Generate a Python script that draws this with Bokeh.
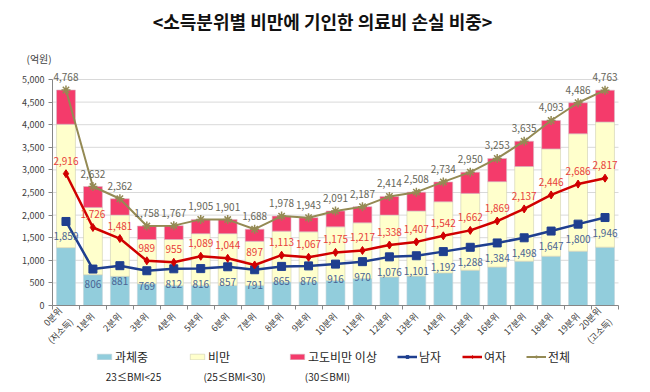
import math
from bokeh.plotting import figure
from bokeh.models import (ColumnDataSource, Range1d, FixedTicker, NumeralTickFormatter,
                          Label, Legend, LegendItem)
from bokeh.core.properties import value
from bokeh.embed import file_html
from bokeh.resources import INLINE

# ---------------- data ----------------
categories = ["0분위\n(저소득)", "1분위", "2분위", "3분위", "4분위", "5분위", "6분위", "7분위",
              "8분위", "9분위", "10분위", "11분위", "12분위", "13분위", "14분위", "15분위",
              "16분위", "17분위", "18분위", "19분위", "20분위\n(고소득)"]
overweight = [1280, 680, 645, 480, 445, 445, 445, 445, 520, 520, 555, 595, 630, 650,
              720, 780, 850, 980, 1090, 1200, 1290]
obese_top = [4010, 2170, 2000, 1460, 1460, 1590, 1590, 1420, 1645, 1630, 1740, 1830, 2000, 2090,
             2295, 2480, 2740, 3075, 3465, 3800, 4060]
total = [4768, 2632, 2362, 1758, 1767, 1905, 1901, 1688, 1978, 1943, 2091, 2187, 2414, 2508,
         2734, 2950, 3253, 3635, 4093, 4486, 4763]
male = [1859, 806, 881, 769, 812, 816, 857, 791, 865, 876, 916, 970, 1076, 1101,
        1192, 1288, 1384, 1498, 1647, 1800, 1946]
female = [2916, 1726, 1481, 989, 955, 1089, 1044, 897, 1113, 1067, 1175, 1217, 1338, 1407,
          1542, 1662, 1869, 2137, 2446, 2686, 2817]
y_ticks = [0, 500, 1000, 1500, 2000, 2500, 3000, 3500, 4000, 4500, 5000]
title_text = "<소득분위별 비만에 기인한 의료비 손실 비중>"
unit_text = "(억원)"
legend_names = ["과체중", "비만", "고도비만 이상", "남자", "여자", "전체"]
legend_sub = ["23≤BMI<25", "(25≤BMI<30)", "(30≤BMI)"]

FONT = "Noto Sans CJK KR"
C_BLUE = "#92CDDC"
C_YEL = "#FFFFCC"
C_RED = "#F43B6B"
C_MALE = "#1F3F8F"
C_FEM = "#D00000"
C_TOT = "#948A54"
C_AXIS = "#868686"

W, H = 650, 392
# plot-area geometry in pixels (frame covers the whole canvas)
PL, PR, PT, PB = 52, 618, 79, 305

xs = list(range(len(categories)))
n = len(xs)
ppx = (PR - PL) / n                       # pixels per category
x_lo = -0.5 - PL / ppx
x_hi = n - 0.5 + (W - PR) / ppx
ymax = y_ticks[-1]
ppy = (PB - PT) / ymax                    # pixels per unit
y_lo = -(H - PB) / ppy
y_hi = ymax + PT / ppy

fmt = lambda v: f"{v:,}"
src = ColumnDataSource(dict(
    x=xs, ow=overweight, ob=obese_top, tot=total, male=male, fem=female,
    zero=[0] * n,
    male_t=[fmt(v) for v in male], fem_t=[fmt(v) for v in female], tot_t=[fmt(v) for v in total],
))

p = figure(width=W, height=H, output_backend="svg", toolbar_location=None,
           x_range=Range1d(x_lo, x_hi), y_range=Range1d(y_lo, y_hi),
           min_border=0, min_border_left=0, min_border_right=0,
           min_border_top=0, min_border_bottom=0)
p.outline_line_color = None
p.background_fill_color = "white"
p.border_fill_color = "white"
p.xgrid.grid_line_color = None
p.ygrid.grid_line_color = None

# horizontal grid lines over the plot area
gsrc = ColumnDataSource(dict(y=y_ticks[1:], x0=[xs[0] - 0.5] * (len(y_ticks) - 1),
                             x1=[xs[-1] + 0.5] * (len(y_ticks) - 1)))
p.segment(x0="x0", x1="x1", y0="y", y1="y", source=gsrc, line_color="#D9D9D9", line_width=1)

# bars
r_blue = p.vbar(x="x", bottom="zero", top="ow", width=0.7, source=src,
                fill_color=C_BLUE, line_color="#C0D4DA", line_width=0.6)
r_yel = p.vbar(x="x", bottom="ow", top="ob", width=0.7, source=src,
               fill_color=C_YEL, line_color="#CFCFB0", line_width=0.6)
r_red = p.vbar(x="x", bottom="ob", top="tot", width=0.7, source=src,
               fill_color=C_RED, line_color="#D9BCC6", line_width=0.6)

# lines
l_tot = p.line("x", "tot", source=src, line_color=C_TOT, line_width=2)
m_tot = p.scatter("x", "tot", source=src, marker="asterisk", size=9, line_color=C_TOT, line_width=1.5)
l_male = p.line("x", "male", source=src, line_color=C_MALE, line_width=2.5)
m_male = p.scatter("x", "male", source=src, marker="square", size=8, fill_color=C_MALE, line_color=C_MALE)
l_fem = p.line("x", "fem", source=src, line_color=C_FEM, line_width=2.5)
m_fem = p.scatter("x", "fem", source=src, marker="diamond", size=8, fill_color=C_FEM, line_color=C_FEM)

# data labels
p.text("x", "male", text="male_t", source=src, text_font=value(FONT), text_font_size="10px",
       text_color="#4A6494", text_align="center", text_baseline="middle", y_offset=15)
p.text("x", "fem", text="fem_t", source=src, text_font=value(FONT), text_font_size="10px",
       text_color="#E8403A", text_align="center", text_baseline="middle", y_offset=-13)
p.text("x", "tot", text="tot_t", source=src, text_font=value(FONT), text_font_size="10px",
       text_color="#666659", text_align="center", text_baseline="middle", y_offset=-13)

# axes drawn at fixed locations inside the canvas
p.yaxis.fixed_location = xs[0] - 0.5
p.yaxis.bounds = (0, ymax)
p.yaxis.ticker = FixedTicker(ticks=y_ticks)
p.yaxis.formatter = NumeralTickFormatter(format="0,0")
p.yaxis.major_label_text_font = FONT
p.yaxis.major_label_text_font_size = "9px"
p.yaxis.major_label_text_color = "#404040"
p.yaxis.axis_line_color = C_AXIS
p.yaxis.major_tick_line_color = C_AXIS
p.yaxis.major_tick_out = 4
p.yaxis.major_tick_in = 0
p.yaxis.minor_tick_line_color = None
p.yaxis.major_label_standoff = 4

p.xaxis.fixed_location = 0
p.xaxis.bounds = (xs[0] - 0.5, xs[-1] + 0.5)
p.xaxis.ticker = FixedTicker(ticks=xs, minor_ticks=[i - 0.5 for i in range(n + 1)])
p.xaxis.major_label_overrides = {i: c for i, c in enumerate(categories)}
p.xaxis.major_label_orientation = math.pi / 4
p.xaxis.major_label_text_font = FONT
p.xaxis.major_label_text_font_size = "9px"
p.xaxis.major_label_text_color = "#404040"
p.xaxis.axis_line_color = C_AXIS
p.xaxis.major_tick_line_color = None
p.xaxis.minor_tick_line_color = C_AXIS
p.xaxis.minor_tick_out = 4
p.xaxis.minor_tick_in = 0
p.xaxis.major_label_standoff = 3

# title & unit
p.add_layout(Label(x=322, y=H - 20, x_units="screen", y_units="screen", text=title_text,
                   text_font=FONT, text_font_size="18px", text_font_style="bold",
                   text_color="#111111", text_align="center", text_baseline="middle"))
p.add_layout(Label(x=26, y=H - 58, x_units="screen", y_units="screen", text=unit_text,
                   text_font=FONT, text_font_size="10px", text_color="#404040",
                   text_align="left", text_baseline="middle"))

# legends
items = [(legend_names[0], [r_blue], 95, 18), (legend_names[1], [r_yel], 188, 18),
         (legend_names[2], [r_red], 288, 18), (legend_names[3], [l_male, m_male], 397, 20),
         (legend_names[4], [l_fem, m_fem], 462, 20), (legend_names[5], [l_tot, m_tot], 526, 20)]
for name, rends, lx, gw in items:
    lg = Legend(items=[LegendItem(label=name, renderers=rends)], location=(lx, H - 357 - 8),
                orientation="horizontal", padding=0, margin=0, spacing=0,
                label_standoff=2, glyph_width=gw, glyph_height=7, label_height=16,
                label_text_font=FONT, label_text_font_size="12px", label_text_color="#262626",
                border_line_alpha=0, background_fill_alpha=0)
    p.add_layout(lg, "center")

for txt, cx in zip(legend_sub, [133, 234, 327]):
    p.add_layout(Label(x=cx, y=H - 376, x_units="screen", y_units="screen", text=txt,
                       text_font=FONT, text_font_size="10px", text_color="#262626",
                       text_align="center", text_baseline="middle"))

open("out.html", "w").write(file_html(p, INLINE))
